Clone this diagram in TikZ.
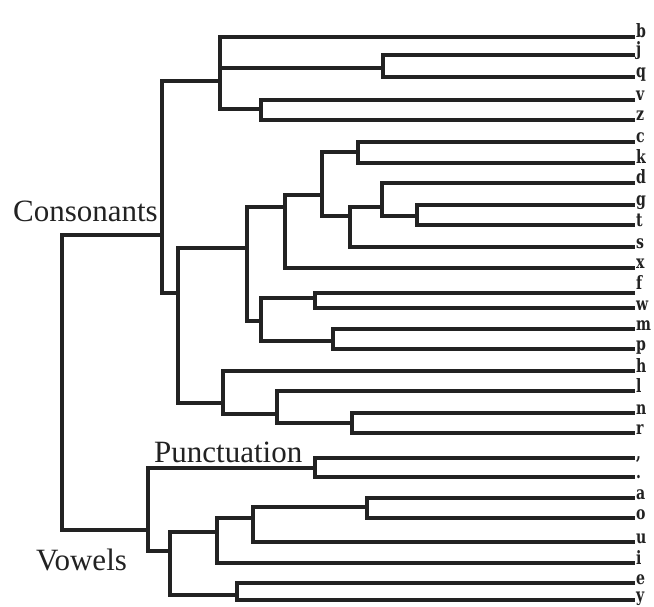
\documentclass[tikz,border=0pt]{standalone}
\usepackage{fontspec}
\setmainfont{Liberation Serif}
\newfontfamily\leaffont{DejaVu Serif}
\definecolor{ink}{HTML}{222222}
\tikzset{
  edge/.style={draw=ink, line width=3.2pt, line join=miter, line cap=rect},
  leaflabel/.style={anchor=base west, inner sep=0pt, text=ink, font=\leaffont\bfseries\fontsize{16}{16}\selectfont},
  grouplabel/.style={inner sep=0pt, text=ink, font=\fontsize{31}{31}\selectfont}
}
\newcommand{\lf}[1]{\scalebox{0.88}[1.15]{#1}}
\begin{document}
\begin{tikzpicture}[x=1pt,y=1pt]
\useasboundingbox (0,0) rectangle (654,-607);
\fill[white] (0,0) rectangle (654,-607);
% internal nodes
\coordinate (R) at (62,-380);
\coordinate (C) at (162,-235);
\coordinate (V) at (148,-530);
\coordinate (B1) at (220,-81);
\coordinate (JQ) at (383,-68);
\coordinate (VZ) at (261,-109);
\coordinate (K) at (178,-293);
\coordinate (A1) at (247,-248);
\coordinate (A2) at (285,-207);
\coordinate (A3) at (322,-195);
\coordinate (CK) at (358,-152);
\coordinate (A4) at (350,-216);
\coordinate (A5) at (382,-207);
\coordinate (GT) at (417,-216);
\coordinate (FM) at (261,-321);
\coordinate (FW) at (315,-298);
\coordinate (MP) at (333,-341);
\coordinate (H1) at (223,-403);
\coordinate (L1) at (277,-414);
\coordinate (NR) at (352,-423);
\coordinate (P) at (315,-468);
\coordinate (V2) at (170,-551);
\coordinate (V3) at (217,-532);
\coordinate (V4) at (253,-518);
\coordinate (AO) at (367,-507);
\coordinate (EY) at (237,-595);
% leaves: name / line y / label baseline y / text
\foreach \n/\y/\by/\t in {b/37/38/b, j/55/56/j, q/77/78/q, v/100/101/v, z/120/121/z, c/142/143/c, k/163/164/k, d/183/184/d, g/205/206/g, t/225/226/t, s/247/248/s, x/268/269/x, f/293/290/f, w/308/310/w, m/329/330/m, p/349/350/p, h/371/372/h, l/391/392/l, n/413/414/n, r/433/434/r, comma/458/459/{,}, period/477/478/., a/498/499/a, o/518/519/o, u/542/543/u, i/563/564/i, e/583/584/e, y/600/601/y}{
  \coordinate (l\n) at (633,-\y);
  \node[leaflabel] (t\n) at (636,-\by) {\lf{\t}};
}
% edges
\draw[edge] (R) |- (C);
\draw[edge] (R) |- (V);
\draw[edge] (C) |- (B1);
\draw[edge] (C) |- (K);
\draw[edge] (B1) |- (lb);
\draw[edge] (B1) |- (JQ);
\draw[edge] (B1) |- (VZ);
\draw[edge] (JQ) |- (lj);
\draw[edge] (JQ) |- (lq);
\draw[edge] (VZ) |- (lv);
\draw[edge] (VZ) |- (lz);
\draw[edge] (K) |- (A1);
\draw[edge] (K) |- (H1);
\draw[edge] (A1) |- (A2);
\draw[edge] (A1) |- (FM);
\draw[edge] (A2) |- (A3);
\draw[edge] (A2) |- (lx);
\draw[edge] (A3) |- (CK);
\draw[edge] (A3) |- (A4);
\draw[edge] (CK) |- (lc);
\draw[edge] (CK) |- (lk);
\draw[edge] (A4) |- (A5);
\draw[edge] (A4) |- (ls);
\draw[edge] (A5) |- (ld);
\draw[edge] (A5) |- (GT);
\draw[edge] (GT) |- (lg);
\draw[edge] (GT) |- (lt);
\draw[edge] (FM) |- (FW);
\draw[edge] (FM) |- (MP);
\draw[edge] (FW) |- (lf);
\draw[edge] (FW) |- (lw);
\draw[edge] (MP) |- (lm);
\draw[edge] (MP) |- (lp);
\draw[edge] (H1) |- (lh);
\draw[edge] (H1) |- (L1);
\draw[edge] (L1) |- (ll);
\draw[edge] (L1) |- (NR);
\draw[edge] (NR) |- (ln);
\draw[edge] (NR) |- (lr);
\draw[edge] (V) |- (P);
\draw[edge] (V) |- (V2);
\draw[edge] (P) |- (lcomma);
\draw[edge] (P) |- (lperiod);
\draw[edge] (V2) |- (V3);
\draw[edge] (V2) |- (EY);
\draw[edge] (V3) |- (V4);
\draw[edge] (V3) |- (li);
\draw[edge] (V4) |- (AO);
\draw[edge] (V4) |- (lu);
\draw[edge] (AO) |- (la);
\draw[edge] (AO) |- (lo);
\draw[edge] (EY) |- (le);
\draw[edge] (EY) |- (ly);
% group labels
\node[grouplabel, anchor=base east] (cons) at (158,-222) {Consonants};
\node[grouplabel, anchor=base west] (punct) at (154,-462) {Punctuation};
\node[grouplabel, anchor=base west] (vow) at (36,-570) {Vowels};
\end{tikzpicture}
\end{document}
